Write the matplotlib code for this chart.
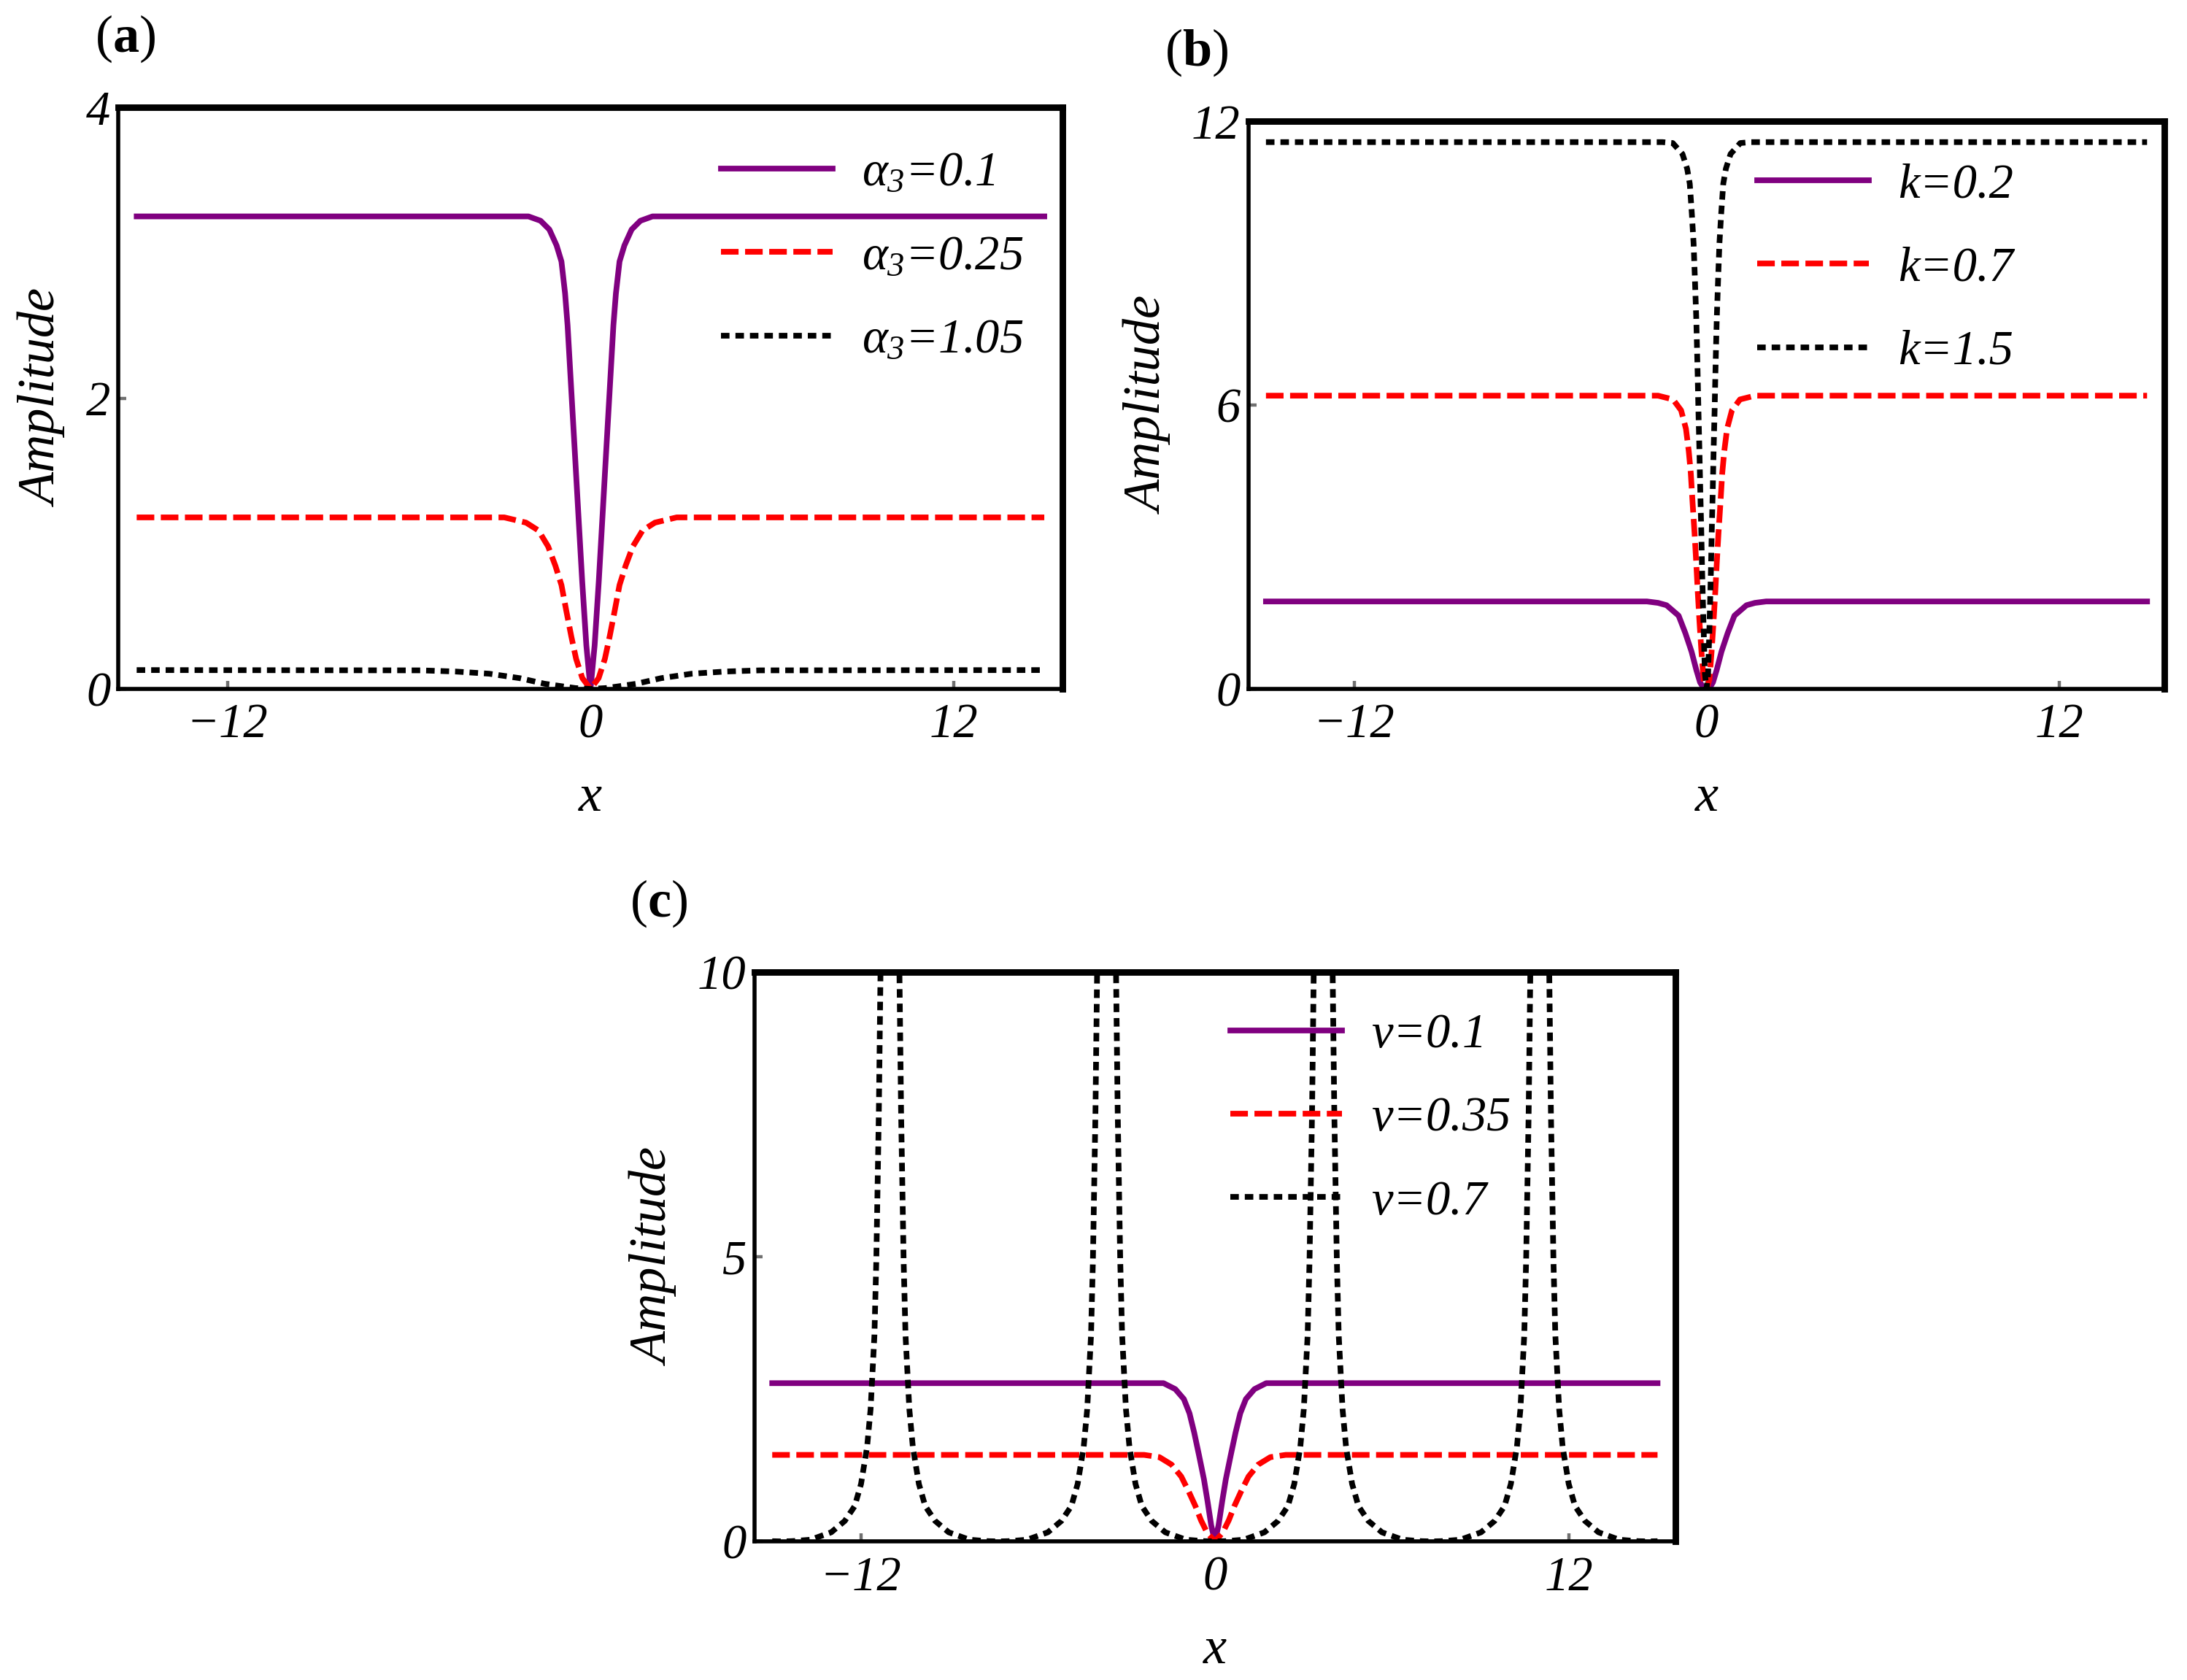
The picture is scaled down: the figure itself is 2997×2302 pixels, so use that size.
import numpy as np
import matplotlib
matplotlib.use("Agg")
import matplotlib.pyplot as plt

plt.rcParams['font.family'] = ['Liberation Serif', 'DejaVu Serif']
plt.rcParams['font.style'] = 'italic'
plt.rcParams['mathtext.fontset'] = 'custom'
plt.rcParams['mathtext.it'] = 'Liberation Serif:style=italic'
plt.rcParams['mathtext.rm'] = 'Liberation Serif:style=italic'
plt.rcParams['mathtext.bf'] = 'Liberation Serif:style=normal:weight=bold'

x_ticks = [-12, 0, 12]

# values; curves are symmetric about x = 0,
# so only the x >= 0 half is listed (distance d from the centre, value v)

# panel (a)
a_labels = [r'$\alpha_3$=0.1', r'$\alpha_3$=0.25', r'$\alpha_3$=1.05']
a_purple_d = [0, 0.137, 0.274, 0.395, 0.515, 0.636, 0.757, 0.84, 0.96, 1.12, 1.36, 1.65, 2.05, 15]
a_purple_v = [0, 0.30, 0.74, 1.18, 1.62, 2.06, 2.50, 2.72, 2.94, 3.05, 3.16, 3.22, 3.25, 3.25]
a_red_d = [0, 0.27, 0.475, 0.635, 0.80, 0.96, 1.16, 1.40, 1.72, 2.13, 2.85, 15]
a_red_v = [0, 0.075, 0.207, 0.362, 0.538, 0.715, 0.847, 0.98, 1.09, 1.144, 1.18, 1.18]
a_black_d = [0, 0.5, 0.96, 1.52, 2.33, 3.35, 4.47, 5.6, 15]
a_black_v = [0, 0.006, 0.019, 0.036, 0.074, 0.105, 0.12, 0.128, 0.13]

# panel (b)
b_labels = ['k=0.2', 'k=0.7', 'k=1.5']
b_purple_d = [0, 0.12, 0.22, 0.346, 0.51, 0.72, 0.95, 1.36, 1.65, 2.03, 15]
b_purple_v = [0, 0.04, 0.14, 0.40, 0.79, 1.18, 1.55, 1.77, 1.82, 1.85, 1.85]
b_red_d = [0, 0.099, 0.173, 0.239, 0.297, 0.35, 0.408, 0.474, 0.535, 0.605, 0.70, 0.865, 1.14, 1.65, 15]
b_red_v = [0, 0.2, 0.79, 1.42, 2.04, 2.67, 3.30, 3.93, 4.56, 5.03, 5.50, 5.89, 6.12, 6.2, 6.2]
b_black_d = [0, 0.054, 0.086, 0.119, 0.152, 0.177, 0.214, 0.24, 0.276, 0.30, 0.33, 0.35, 0.40,
             0.44, 0.50, 0.57, 0.66, 0.82, 1.15, 1.5, 15]
b_black_v = [0, 0.32, 1.0, 1.75, 2.55, 3.3, 4.24, 5.0, 5.9, 6.6, 7.38, 7.85, 8.75,
             9.42, 10.05, 10.68, 11.00, 11.31, 11.54, 11.56, 11.56]

# panel (c)
c_labels = [r'$\nu$=0.1', r'$\nu$=0.35', r'$\nu$=0.7']
c_purple_d = [0, 0.124, 0.25, 0.37, 0.54, 0.70, 0.86, 1.05, 1.34, 1.74, 15]
c_purple_v = [0, 0.28, 0.71, 1.09, 1.52, 1.91, 2.25, 2.50, 2.675, 2.78, 2.78]
c_red_d = [0, 0.26, 0.47, 0.66, 0.89, 1.14, 1.47, 1.88, 2.40, 15]
c_red_v = [0, 0.15, 0.37, 0.62, 0.88, 1.14, 1.35, 1.48, 1.52, 1.52]
# black curve of (c): the same arch around each zero, rising to the poles
c_black_zeros = [-14.68, -7.34, 0, 7.34, 14.68]
c_black_d = [0, 0.32, 0.5, 0.98, 1.68, 2.14, 2.475, 2.69, 2.895, 3.013, 3.078, 3.143, 3.207, 3.293, 3.347, 3.40]
c_black_v = [0, 0.004, 0.01, 0.03, 0.16, 0.36, 0.62, 1.01, 1.66, 2.32, 2.97, 3.62, 4.93, 7.54, 9.89, 12.5]

PURPLE = '#800080'
RED = '#ff0000'
BLACK = '#000000'


def mirror(d, v):
    d = np.asarray(d, dtype=float)
    v = np.asarray(v, dtype=float)
    return np.concatenate([-d[::-1], d[1:]]), np.concatenate([v[::-1], v[1:]])


def draw_curves(ax, purple, red, black):
    ax.plot(*purple, color=PURPLE, lw=2.8)
    ax.plot(*red, color=RED, lw=2.8, ls=(0, (3.1, 1.15)))
    ax.plot(*black, color=BLACK, lw=2.8, ls=(0, (1.5, 1.05)))


def style_axes(ax, ymax, yticks, labels, anchor):
    ax.set_xlim(-15.6, 15.6)
    ax.set_ylim(0, ymax)
    ax.set_xticks(x_ticks)
    ax.set_yticks(yticks)
    for s in ['top', 'right']:
        ax.spines[s].set_linewidth(3.2)
    for s in ['left', 'bottom']:
        ax.spines[s].set_linewidth(2.0)
    ax.tick_params(direction='in', length=4, width=1.6, color='#707070', labelsize=24)
    ax.tick_params(axis='x', pad=7)
    ax.tick_params(axis='y', pad=4)
    ax.set_xlabel('x', fontsize=26, labelpad=13)
    ax.set_ylabel('Amplitude', fontsize=26, labelpad=9)
    ax.legend(labels, loc='upper left', bbox_to_anchor=anchor, bbox_transform=fig.transFigure,
              frameon=False, borderpad=0, borderaxespad=0, handlelength=2.3,
              handletextpad=0.6, labelspacing=0.8,
              prop={'family': 'Liberation Serif', 'style': 'italic', 'size': 24})


fig = plt.figure(figsize=(14.985, 11.51), dpi=200)

ax_a = fig.add_axes([0.0542, 0.5899, 0.4316, 0.3462])
draw_curves(ax_a, mirror(a_purple_d, a_purple_v), mirror(a_red_d, a_red_v), mirror(a_black_d, a_black_v))
style_axes(ax_a, 4, [0, 2, 4], a_labels, (0.3297, 0.910))

ax_b = fig.add_axes([0.5708, 0.5899, 0.4190, 0.3379])
draw_curves(ax_b, mirror(b_purple_d, b_purple_v), mirror(b_red_d, b_red_v), mirror(b_black_d, b_black_v))
style_axes(ax_b, 12, [0, 6, 12], b_labels, (0.8035, 0.903))

bx, bv = [], []
for z in c_black_zeros:
    xs, vs = mirror(c_black_d, c_black_v)
    xs = xs + z
    keep = np.abs(xs) <= 15.001
    bx += [xs[keep], [np.nan]]
    bv += [vs[keep], [np.nan]]
c_black = (np.concatenate(bx), np.concatenate(bv))

ax_c = fig.add_axes([0.345, 0.0825, 0.421, 0.3388])
draw_curves(ax_c, mirror(c_purple_d, c_purple_v), mirror(c_red_d, c_red_v), c_black)
style_axes(ax_c, 10, [0, 5, 10], c_labels, (0.5626, 0.397))

fig.text(0.0574, 0.9768, r'($\mathbf{a}$)', fontsize=26, style='normal', ha='center', va='center')
fig.text(0.547, 0.9685, r'($\mathbf{b}$)', fontsize=26, style='normal', ha='center', va='center')
fig.text(0.3013, 0.462, r'($\mathbf{c}$)', fontsize=26, style='normal', ha='center', va='center')

fig.savefig('out.png', dpi=200)
